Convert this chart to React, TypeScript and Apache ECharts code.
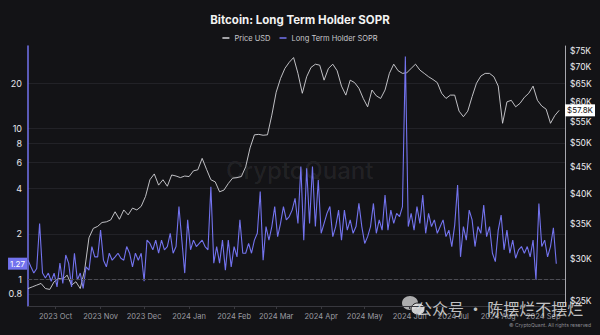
import { useEffect, useRef } from "react";
import * as echarts from "echarts";

// ---- data ----
const START_DATE = "2023-09-12";
const SOPR_STEP_DAYS = 2;
const PRICE_STEP_DAYS = 3;
const AXIS_MIN_DATE = "2023-09-12";
const AXIS_MAX_DATE = "2024-09-16";

// Long Term Holder SOPR, one value every 2 days from START_DATE
const soprValues = [
  1.34, 1.21, 1.1, 1.18, 2.35, 1.1, 1.02, 1.1, 0.97, 1.1,
  0.89, 1.28, 0.94, 1.45, 1.28, 0.89, 1.49, 0.99, 1.1, 0.87,
  1.21, 1.15, 1.65, 1.41, 1.41, 2.12, 1.34, 1.21, 1.49, 1.34,
  1.41, 1.49, 1.38, 1.34, 1.65, 1.49, 1.21, 1.49, 1.34, 1.49,
  0.97, 1.82, 1.73, 1.57, 1.82, 1.49, 1.82, 1.57, 1.65, 2.02,
  1.49, 1.65, 3.04, 1.82, 1.1, 2.48, 1.57, 1.82, 1.65, 1.73,
  1.82, 1.65, 1.57, 4.12, 1.28, 1.65, 1.28, 1.82, 1.15, 1.82,
  1.21, 1.65, 1.41, 2.48, 1.49, 1.49, 1.73, 1.49, 1.82, 2.02,
  3.82, 1.34, 2.24, 1.82, 2.24, 3.04, 1.92, 2.35, 3.04, 2.48,
  2.61, 2.88, 3.45, 2.35, 5.6, 1.82, 5.46, 2.35, 5.6, 2.24,
  4.56, 2.02, 2.35, 2.74, 3.04, 1.92, 2.24, 2.88, 1.82, 2.88,
  2.12, 2.48, 2.02, 2.24, 3.19, 2.24, 1.73, 1.92, 2.24, 3.19,
  2.02, 2.48, 2.12, 3.63, 2.12, 2.88, 2.35, 2.74, 2.61, 3.04,
  30.1, 2.24, 2.74, 2.12, 3.04, 2.35, 3.63, 2.02, 2.74, 2.24,
  2.48, 2.02, 2.24, 2.48, 1.92, 2.12, 1.65, 2.29, 4.23, 1.41,
  2.24, 1.82, 2.88, 2.48, 1.65, 2.24, 2.02, 3.11, 1.92, 2.24,
  1.49, 1.31, 2.12, 2.67, 1.57, 2.12, 1.49, 1.82, 1.38, 1.57,
  1.65, 1.49, 1.65, 1.41, 1.82, 0.99, 3.19, 1.65, 1.82, 1.41,
  1.65, 2.2, 1.27,
];

// Bitcoin price in thousands of USD, one value every 3 days from START_DATE
const priceK = [
  26.4, 26.6, 26.8, 27.0, 26.4, 26.3, 27.2, 27.6, 27.5, 28.0,
  26.8, 27.2, 26.4, 28.6, 33.0, 34.4, 34.7, 35.3, 35.4, 35.7,
  37.0, 35.8, 37.3, 36.5, 37.6, 37.3, 37.9, 39.6, 42.6, 43.7,
  41.6, 42.6, 41.4, 43.5, 43.3, 43.0, 43.3, 43.2, 44.3, 44.5,
  46.8, 44.6, 42.6, 42.2, 40.4, 40.7, 41.9, 42.9, 43.0, 43.2,
  45.1, 49.0, 51.9, 52.0, 51.8, 51.9, 56.6, 62.6, 66.5, 69.5,
  71.4, 72.9, 68.0, 62.3, 67.0, 69.8, 70.8, 70.5, 66.0, 69.5,
  70.8, 68.8, 64.3, 61.8, 66.0, 65.3, 63.7, 60.9, 58.7, 63.2,
  61.6, 60.9, 63.2, 68.0, 70.8, 68.8, 68.0, 68.2, 69.5, 70.8,
  69.0, 68.0, 67.0, 66.2, 65.3, 62.3, 60.9, 61.8, 61.8, 57.6,
  56.2, 57.6, 61.4, 65.1, 67.2, 68.0, 68.0, 67.0, 64.3, 54.6,
  60.0, 60.4, 58.7, 59.6, 61.2, 62.3, 64.3, 60.4, 58.9, 58.1,
  54.6, 56.5, 57.8,
];

const monthTicks = [
  "2023-10-01", "2023-11-01", "2023-12-01", "2024-01-01", "2024-02-01", "2024-03-01",
  "2024-04-01", "2024-05-01", "2024-06-01", "2024-07-01", "2024-08-01", "2024-09-01",
];
const soprTicks = [0.8, 1, 2, 4, 6, 8, 10, 20];
const priceTicks = [25000, 30000, 35000, 40000, 45000, 50000, 55000, 60000, 65000, 70000, 75000];
const MONTH_NAMES = ["Jan", "Feb", "Mar", "Apr", "May", "Jun", "Jul", "Aug", "Sep", "Oct", "Nov", "Dec"];

const SOPR_MIN = 0.665;
const SOPR_MAX = 35.4;
const PRICE_MIN = 24450;
const PRICE_MAX = 76700;

// ---- helpers ----
const DAY = 86400000;
const ts = (s: string) => Date.parse(s + "T00:00:00Z");

const SOPR_COLOR = "#7373ee";
const PRICE_COLOR = "#d4d4d8";
const BG = "#131316";
const FONT = "Inter, 'Noto Sans', sans-serif";
const CLEAR = "rgba(0,0,0,0)";

export default function App() {
  const ref = useRef<HTMLDivElement>(null);

  useEffect(() => {
    if (!ref.current) return;
    const chart = echarts.init(ref.current, undefined, { renderer: "svg" });
    const t0 = ts(START_DATE);
    const soprData = soprValues.map((v, i) => [t0 + i * SOPR_STEP_DAYS * DAY, v]);
    const priceData = priceK.map((v, i) => [t0 + i * PRICE_STEP_DAYS * DAY, v * 1000]);
    const lastSopr = soprValues[soprValues.length - 1];
    const lastPrice = priceK[priceK.length - 1];
    const monthTs = monthTicks.map(ts);

    chart.setOption({
      animation: false,
      backgroundColor: BG,
      textStyle: { fontFamily: FONT },
      title: {
        text: "Bitcoin: Long Term Holder SOPR",
        left: "center",
        top: 9,
        textStyle: { color: "#f2f2f2", fontSize: 11.5, fontWeight: "bold", fontFamily: FONT },
      },
      legend: {
        top: 29,
        left: "center",
        icon: "rect",
        itemWidth: 7,
        itemHeight: 1.5,
        itemGap: 9,
        textStyle: { color: "#c8c8cc", fontSize: 7.5, fontFamily: FONT },
        data: ["Price USD", "Long Term Holder SOPR"],
      },
      grid: { left: 28, right: 35, top: 46, bottom: 29, containLabel: false },
      xAxis: {
        type: "value",
        min: ts(AXIS_MIN_DATE),
        max: ts(AXIS_MAX_DATE),
        axisLine: { show: true, lineStyle: { color: "#38383e", width: 1 } },
        axisTick: {
          show: true,
          length: 3,
          lineStyle: { color: "#38383e" },
          customValues: monthTs,
        },
        axisLabel: {
          color: "#9c9ca2",
          fontSize: 7.5,
          margin: 6,
          customValues: monthTs,
          formatter: (v: number) => {
            const d = new Date(v);
            return `${d.getUTCFullYear()} ${MONTH_NAMES[d.getUTCMonth()]}`;
          },
        },
        splitLine: { show: false },
      },
      yAxis: [
        {
          type: "log",
          logBase: 10,
          position: "left",
          min: SOPR_MIN,
          max: SOPR_MAX,
          axisLine: { show: true, lineStyle: { color: SOPR_COLOR, width: 1.5 } },
          axisTick: { show: false, customValues: soprTicks },
          axisLabel: {
            color: "#e6e6ea",
            fontSize: 9,
            margin: 6,
            customValues: soprTicks,
            formatter: (v: number) => String(Math.round(v * 10) / 10),
          },
          splitLine: { show: true, lineStyle: { color: "#222227", width: 1 } },
        },
        {
          type: "log",
          logBase: 10,
          position: "right",
          min: PRICE_MIN,
          max: PRICE_MAX,
          axisLine: { show: true, lineStyle: { color: "#a8a8ae", width: 1 } },
          axisTick: { show: false, customValues: priceTicks },
          axisLabel: {
            color: "#ececf0",
            fontSize: 8.5,
            margin: 5,
            customValues: priceTicks,
            formatter: (v: number) => "$" + Math.round(v / 1000) + "K",
          },
          splitLine: { show: false },
        },
      ],
      series: [
        {
          name: "Price USD",
          type: "line",
          yAxisIndex: 1,
          data: priceData,
          symbol: "none",
          showSymbol: false,
          color: PRICE_COLOR,
          lineStyle: { color: PRICE_COLOR, width: 0.9 },
          z: 3,
          markLine: {
            silent: true,
            symbol: "none",
            data: [
              {
                yAxis: lastPrice * 1000,
                lineStyle: { color: CLEAR, width: 0 },
                label: {
                  show: true,
                  position: "end",
                  distance: 0,
                  formatter: "$" + lastPrice.toFixed(1) + "K",
                  backgroundColor: "#ffffff",
                  color: "#111111",
                  fontSize: 8,
                  padding: [2, 2],
                  fontFamily: FONT,
                },
              },
            ],
          },
        },
        {
          name: "Long Term Holder SOPR",
          type: "line",
          yAxisIndex: 0,
          data: soprData,
          symbol: "none",
          showSymbol: false,
          color: SOPR_COLOR,
          lineStyle: { color: SOPR_COLOR, width: 1.1 },
          z: 4,
          markLine: {
            silent: true,
            symbol: "none",
            data: [
              {
                yAxis: 1,
                lineStyle: { type: "dashed", color: "#4c4c54", width: 1 },
                label: { show: false },
              },
              {
                yAxis: lastSopr,
                lineStyle: { color: CLEAR, width: 0 },
                label: {
                  show: true,
                  position: "start",
                  distance: 1,
                  formatter: lastSopr.toFixed(2),
                  backgroundColor: SOPR_COLOR,
                  color: "#ffffff",
                  fontSize: 8,
                  padding: [2, 2],
                  fontFamily: FONT,
                },
              },
            ],
          },
        },
      ],
      graphic: [
        {
          type: "text",
          left: 226,
          top: 158,
          z: 0,
          silent: true,
          style: {
            text: "CryptoQuant",
            fontSize: 24,
            fontFamily: FONT,
            fontWeight: 500,
            fill: "rgba(255,255,255,0.08)",
          },
        },
        {
          type: "group",
          left: 402,
          top: 296,
          z: 100,
          children: [
            { type: "ellipse", shape: { cx: 8, cy: 7, rx: 8, ry: 7 }, style: { fill: "rgba(200,200,200,0.85)" } },
            { type: "ellipse", shape: { cx: 16, cy: 13, rx: 7, ry: 6 }, style: { fill: "rgba(225,225,225,0.9)", stroke: BG, lineWidth: 1 } },
          ],
        },
        {
          type: "text",
          left: 416,
          top: 300,
          z: 100,
          silent: true,
          style: {
            text: "公众号 · 陈摆烂不摆烂",
            fontSize: 16,
            fontFamily: "'Noto Sans CJK SC', sans-serif",
            fill: "rgba(225,225,225,0.85)",
          },
        },
        {
          type: "text",
          left: 509,
          top: 322,
          z: 100,
          silent: true,
          style: {
            text: "© CryptoQuant. All rights reserved",
            fontSize: 5,
            fontFamily: FONT,
            fill: "#8c8c92",
          },
        },
      ],
    });

    return () => chart.dispose();
  }, []);

  return (
    <div
      ref={ref}
      style={{ position: "fixed", left: 0, top: 0, width: 600, height: 335, background: BG }}
    />
  );
}
